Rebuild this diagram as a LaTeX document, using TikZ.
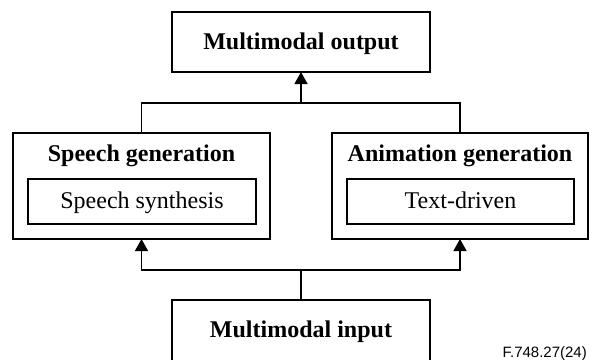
\documentclass[tikz,border=0pt]{standalone}
\usepackage{fontspec}
\setmainfont{Liberation Serif}
\newfontfamily\figfont{Liberation Sans}
\usetikzlibrary{arrows.meta}

\tikzset{
  box/.style={draw, line width=1.3pt, inner sep=0pt, outer sep=0pt},
  title/.style={anchor=base, inner sep=0pt, font=\fontsize{24}{28}\selectfont\bfseries},
  plain/.style={anchor=base, inner sep=0pt, font=\fontsize{24}{28}\selectfont},
  wire/.style={line width=1.3pt},
  flow/.style={wire, -{Triangle[length=12pt,width=13pt]}},
}

\begin{document}
\begin{tikzpicture}[x=1pt,y=-1pt]
\useasboundingbox (0,0) rectangle (592,359);
\clip (0,0) rectangle (592,359);

% output block
\node[box, minimum width=258pt, minimum height=60pt] (out) at (301,42) {};
\node[title] (outtext) at (301,49.3) {Multimodal output};

% speech generation block
\node[box, minimum width=257pt, minimum height=106pt] (sg) at (141.5,186) {};
\node[title] (sgtext) at (141.5,161.7) {Speech generation};
\node[box, minimum width=228pt, minimum height=45pt] (ss) at (142,201.5) {};
\node[plain] (sstext) at (142,208.3) {Speech synthesis};

% animation generation block
\node[box, minimum width=256pt, minimum height=106pt] (ag) at (460,186) {};
\node[title] (agtext) at (460,161.7) {Animation generation};
\node[box, minimum width=227pt, minimum height=45pt] (td) at (460.5,201.5) {};
\node[plain] (tdtext) at (460.5,208.3) {Text-driven};

% input block, open at the lower edge
\node[minimum width=258pt, minimum height=70pt, inner sep=0pt, outer sep=0pt] (in) at (301,335) {};
\draw[wire] (in.south west) |- (in.north east) -- (in.south east);
\node[title] (intext) at (301,337) {Multimodal input};

% junctions
\coordinate (jt) at (301,103);
\coordinate (jb) at (301,270);

% connectors
\draw[wire] (sg.north) |- (jt) -| (ag.north);
\draw[flow] (jt) -- (out.south);
\draw[wire] (in.north) -- (jb);
\draw[flow] (jb) -| (sg.south);
\draw[flow] (jb) -| (ag.south);

% figure number
\node[anchor=base east, inner sep=0pt, font=\figfont\fontsize{15}{18}\selectfont] (fig) at (587,357) {F.748.27(24)};
\end{tikzpicture}
\end{document}
